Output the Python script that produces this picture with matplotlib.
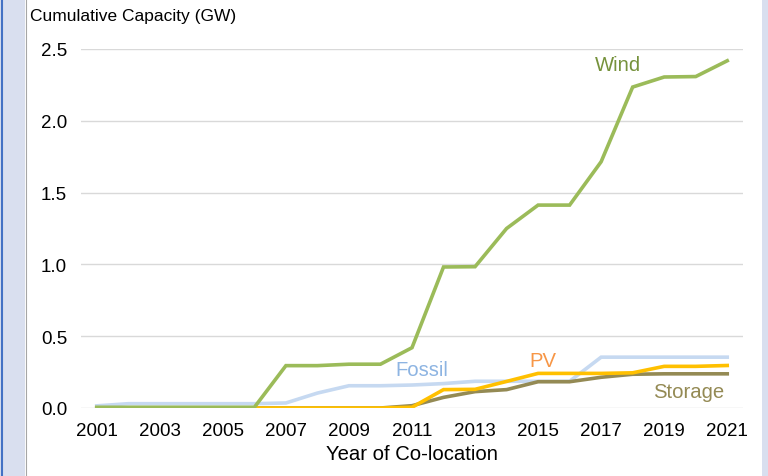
import numpy as np
import matplotlib.pyplot as plt
from matplotlib.patches import Rectangle
from matplotlib.lines import Line2D

plt.rcParams['font.family'] = ['Liberation Sans', 'DejaVu Sans']

years = np.arange(2001, 2022)
wind = [0.005, 0.005, 0.005, 0.005, 0.005, 0.005, 0.295, 0.295, 0.305, 0.305, 0.42,
        0.982, 0.984, 1.25, 1.413, 1.413, 1.715, 2.235, 2.305, 2.308, 2.418]
fossil = [0.015, 0.03, 0.03, 0.03, 0.03, 0.03, 0.035, 0.104, 0.155, 0.155, 0.16,
          0.17, 0.186, 0.186, 0.186, 0.186, 0.354, 0.354, 0.354, 0.354, 0.354]
pv = [0.0, 0.0, 0.0, 0.0, 0.0, 0.0, 0.0, 0.0, 0.0, 0.0, 0.005,
      0.128, 0.13, 0.185, 0.241, 0.241, 0.241, 0.245, 0.29, 0.29, 0.296]
storage = [0.0, 0.0, 0.0, 0.0, 0.0, 0.0, 0.0, 0.0, 0.0, 0.0, 0.016,
           0.074, 0.114, 0.128, 0.183, 0.183, 0.214, 0.235, 0.238, 0.238, 0.238]

series = [
    # name, values, line colour, label colour, label x, label y, zorder
    ('Fossil', fossil, '#C6D9F1', '#8DB4E2', 2011.3, 0.27, 2),
    ('Storage', storage, '#948A54', '#948A54', 2019.76, 0.118, 3),
    ('PV', pv, '#FFC000', '#F79646', 2015.16, 0.334, 4),
    ('Wind', wind, '#9BBB59', '#76923C', 2017.54, 2.39, 5),
]

fig = plt.figure(figsize=(7.68, 4.77), dpi=100)

# side bands like the slide frame
fig.patches.append(Rectangle((0, 0), 25 / 768, 1, transform=fig.transFigure,
                             facecolor='#D9DFEF', edgecolor='none', zorder=0))
fig.patches.append(Rectangle((762 / 768, 0), 6 / 768, 1, transform=fig.transFigure,
                             facecolor='#D9DFEF', edgecolor='none', zorder=0))
fig.lines.append(Line2D([1.5 / 768, 1.5 / 768], [0, 1], transform=fig.transFigure,
                        color='#4472C4', lw=1.5))
fig.lines.append(Line2D([25.5 / 768, 25.5 / 768], [0, 1], transform=fig.transFigure,
                        color='#A6A6A6', lw=0.8))

ax = fig.add_axes([81 / 768, 68 / 477, 662 / 768, 359 / 477])
for name, values, color, label_color, lx, ly, z in series:
    ax.plot(years, values, color=color, lw=2.6, zorder=z, solid_joinstyle='miter')
    ax.text(lx, ly, name, color=label_color, fontsize=14.6, ha='center', va='center')

ax.set_xlim(2000.5, 2021.5)
ax.set_ylim(0, 2.5)
ax.set_xticks(np.arange(2001, 2022, 2))
ax.set_yticks([0.0, 0.5, 1.0, 1.5, 2.0, 2.5])
ax.set_yticklabels(['0.0', '0.5', '1.0', '1.5', '2.0', '2.5'])
ax.grid(axis='y', color='#D9D9D9', lw=1)
ax.set_axisbelow(True)
for side in ['top', 'right', 'left', 'bottom']:
    ax.spines[side].set_visible(False)
ax.tick_params(length=0, labelsize=13.5)
ax.tick_params(axis='y', pad=10)
ax.tick_params(axis='x', pad=10)
ax.set_xlabel('Year of Co-location', fontsize=14.6, labelpad=4)

fig.text(30 / 768, 1 - 17 / 477, 'Cumulative Capacity (GW)', fontsize=12.5,
         ha='left', va='center')

fig.savefig('out.png', dpi=100)
